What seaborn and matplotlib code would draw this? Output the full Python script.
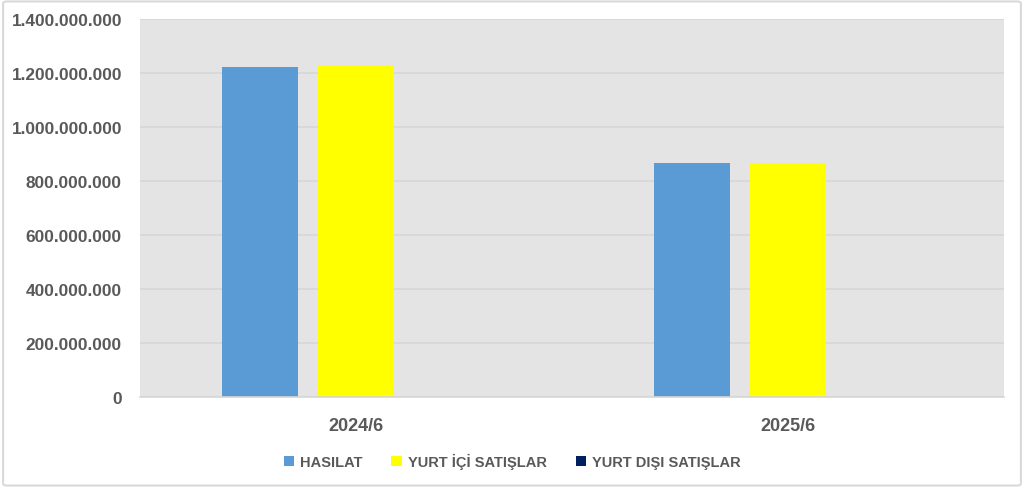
import matplotlib.pyplot as plt
import matplotlib.ticker as mticker
from matplotlib.patches import FancyBboxPatch
import seaborn as sns
import pandas as pd

# chart values
periods = ["2024/6", "2025/6"]
series = ["HASILAT", "YURT İÇİ SATIŞLAR", "YURT DIŞI SATIŞLAR"]
hasilat = [1222000000, 866000000]
yurt_ici = [1225000000, 867000000]
yurt_disi = [0, 0]
colors = ["#5b9bd5", "#ffff00", "#002060"]

df = pd.DataFrame({
    "period": periods * 3,
    "series": [series[0]] * 2 + [series[1]] * 2 + [series[2]] * 2,
    "value": hasilat + yurt_ici + yurt_disi,
})

sns.set_theme(style="white")
plt.rcParams['font.family'] = ['Liberation Sans', 'DejaVu Sans']

fig = plt.figure(figsize=(10.24, 4.89), dpi=100)
ax = fig.add_axes([140 / 1024, 1 - 398 / 489, 864 / 1024, 378 / 489])

sns.barplot(df, x="period", y="value", hue="series", palette=colors,
            width=0.667, gap=0.21, ax=ax, saturation=1, linewidth=0, legend=True)

ax.set_facecolor("#e4e4e4")
ax.set_ylim(0, 1400000000)
ax.set_yticks(range(0, 1400000001, 200000000))
ax.yaxis.set_major_formatter(mticker.FuncFormatter(lambda v, p: f"{int(v):,}".replace(",", ".")))
ax.grid(axis="y", color="#d6d6d6", linewidth=1.2)
ax.set_axisbelow(True)
for s in ["top", "left", "right"]:
    ax.spines[s].set_visible(False)
ax.spines["bottom"].set_color("#d6d6d6")
ax.spines["bottom"].set_linewidth(1.2)
ax.tick_params(axis="both", length=0, labelcolor="#595959")
ax.tick_params(axis="y", labelsize=12.4, pad=13)
ax.tick_params(axis="x", labelsize=13, pad=14.5)
for lab in ax.get_xticklabels() + ax.get_yticklabels():
    lab.set_fontweight("bold")
ax.set_xlabel("")
ax.set_ylabel("")

handles, labels = ax.get_legend_handles_labels()
ax.legend_.remove()
fig.legend(handles, labels, loc="center", bbox_to_anchor=(0.5, 1 - 462 / 489), ncol=3,
           frameon=False, handlelength=0.7, handleheight=0.7, handletextpad=0.4,
           columnspacing=2.0, prop={"size": 10.5, "weight": "bold"}, labelcolor="#595959")

fig.patches.append(FancyBboxPatch((0.003, 0.005), 0.994, 0.99, boxstyle="round,pad=0,rounding_size=0.004",
                                  transform=fig.transFigure, fill=False, edgecolor="#d9d9d9", linewidth=1.5))

fig.savefig("out.png", dpi=100)
